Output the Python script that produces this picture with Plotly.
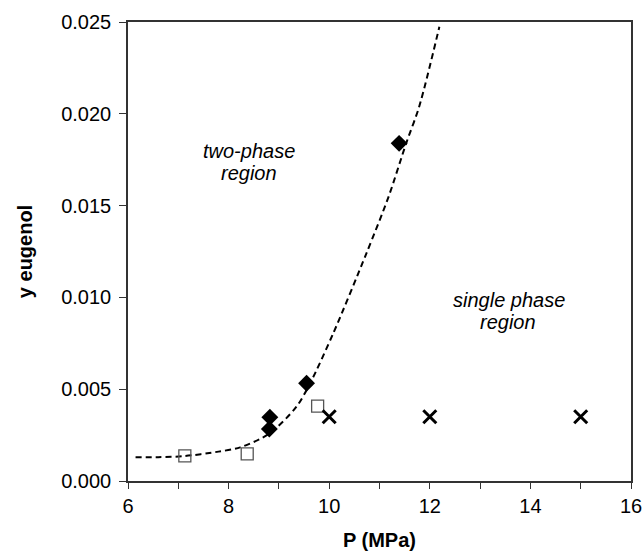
import plotly.graph_objects as go

# Fitted phase boundary (dashed curve)
curve_p = [6.15, 6.6, 7.1, 7.8, 8.23, 8.82, 9.35, 9.62, 10.08, 10.74, 11.18, 11.53, 11.79, 12.19]
curve_y = [0.0013, 0.0013, 0.00135, 0.0016, 0.00183, 0.0026, 0.00405, 0.00532, 0.00804,
           0.0124, 0.01548, 0.01839, 0.0204, 0.02474]

# Open squares
sq_p = [7.13, 8.37, 9.77]
sq_y = [0.00137, 0.00148, 0.00408]

# Filled diamonds
dia_p = [8.81, 8.82, 9.55, 11.39]
dia_y = [0.00283, 0.00347, 0.00532, 0.01839]

# Crosses (single phase)
x_p = [10.0, 12.0, 15.0]
x_y = [0.0035, 0.0035, 0.0035]

x_ticks = [6, 8, 10, 12, 14, 16]
y_ticks = [0.0, 0.005, 0.010, 0.015, 0.020, 0.025]

FONT = "Liberation Sans, Arial, sans-serif"

fig = go.Figure()
fig.add_trace(go.Scatter(
    x=curve_p, y=curve_y, mode="lines",
    line=dict(color="black", width=2, dash="6px,4px", shape="spline", smoothing=0.8),
    hoverinfo="skip"))
fig.add_trace(go.Scatter(
    x=sq_p, y=sq_y, mode="markers",
    marker=dict(symbol="square-open", size=12, color="#555555", line=dict(width=1.3))))
fig.add_trace(go.Scatter(
    x=dia_p, y=dia_y, mode="markers",
    marker=dict(symbol="diamond", size=13, color="black")))
fig.add_trace(go.Scatter(
    x=x_p, y=x_y, mode="markers",
    marker=dict(symbol="x-thin", size=13, color="black", line=dict(width=3, color="black"))))

fig.update_layout(
    width=644, height=551,
    margin=dict(l=128, r=13, t=22, b=70),
    plot_bgcolor="white", paper_bgcolor="white",
    showlegend=False,
    font=dict(family=FONT, size=20, color="black"),
    xaxis=dict(
        range=[6, 16], automargin=False,
        tickvals=x_ticks, ticktext=[str(v) for v in x_ticks],
        ticks="outside", ticklen=6, tickwidth=1, tickcolor="#333333",
        ticklabelstandoff=0,
        minor=dict(dtick=1, tick0=6, ticks="outside", ticklen=6, tickwidth=1,
                   tickcolor="#333333", showgrid=False),
        showline=True, linecolor="#333333", linewidth=1.5, mirror=True,
        showgrid=False, zeroline=False,
        tickfont=dict(size=20),
        title=dict(text="<b>P (MPa)</b>", font=dict(size=20), standoff=24),
    ),
    yaxis=dict(
        range=[0, 0.025], automargin=False,
        tickvals=y_ticks, ticktext=[f"{v:.3f}" for v in y_ticks],
        ticks="outside", ticklen=7, tickwidth=1, tickcolor="#333333",
        ticklabelstandoff=4,
        showline=True, linecolor="#333333", linewidth=1.5, mirror=True,
        showgrid=False, zeroline=False,
        tickfont=dict(size=20),
        title=dict(text="<b>y eugenol</b>", font=dict(size=20), standoff=23),
    ),
)

ann_font = dict(family=FONT, size=20, color="black")
for txt, px, py in [("<i>two-phase</i>", 248.5, 151), ("<i>region</i>", 248.5, 173),
                    ("<i>single phase</i>", 509, 300), ("<i>region</i>", 508, 322)]:
    fig.add_annotation(
        text=txt, xref="x", yref="y",
        x=6 + (px - 128) / 50.3, y=(481 - py) / 18360,
        showarrow=False, font=ann_font, xanchor="center", yanchor="middle")

fig.write_html("out.html")
